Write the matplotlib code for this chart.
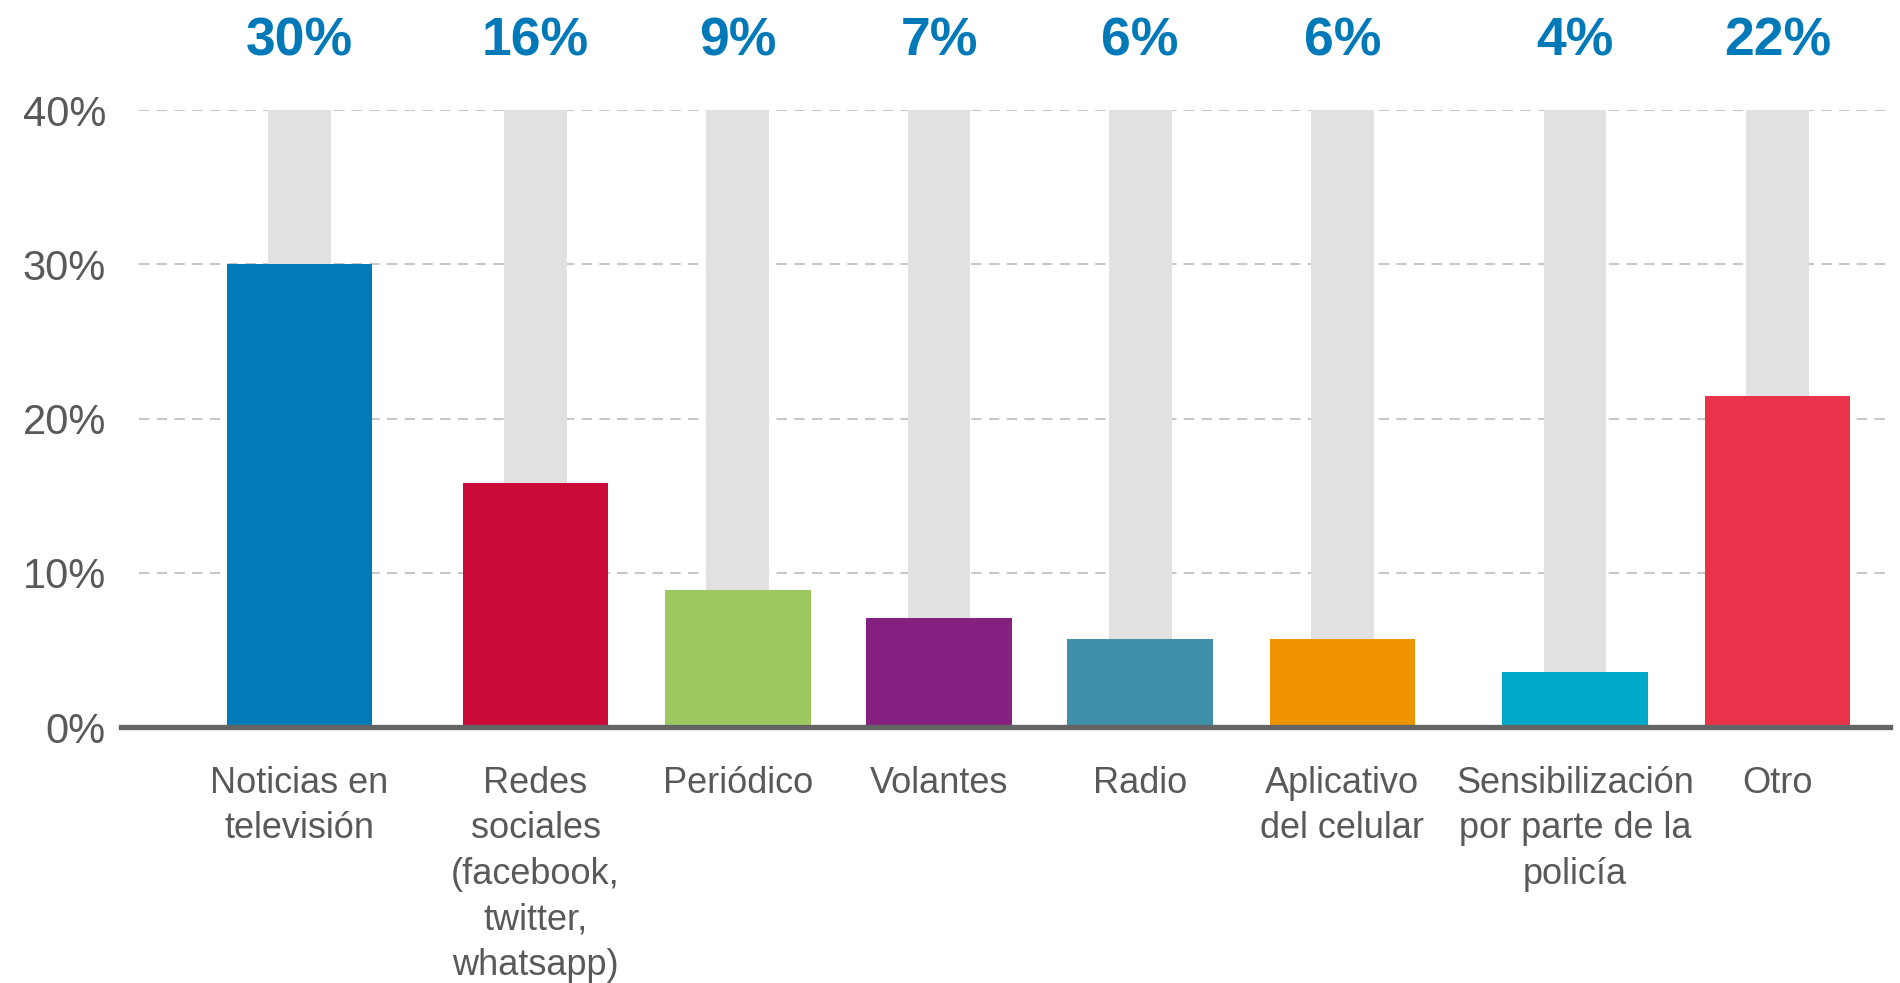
import matplotlib
matplotlib.use("Agg")
import matplotlib.pyplot as plt
from matplotlib.transforms import blended_transform_factory

# ---- data ----
categories = [
    "Noticias en\ntelevisión",
    "Redes\nsociales\n(facebook,\ntwitter,\nwhatsapp)",
    "Periódico",
    "Volantes",
    "Radio",
    "Aplicativo\ndel celular",
    "Sensibilización\npor parte de la\npolicía",
    "Otro",
]
values = [30.0, 15.8, 8.9, 7.1, 5.7, 5.7, 3.6, 21.5]
value_labels = ["30%", "16%", "9%", "7%", "6%", "6%", "4%", "22%"]
background_max = 40
yticks = [0, 10, 20, 30, 40]
ytick_labels = ["0%", "10%", "20%", "30%", "40%"]

# ---- layout / style ----
positions = [0, 1.171, 2.174, 3.171, 4.168, 5.171, 6.324, 7.327]
colors = ["#007BB8", "#CC0A3A", "#9DC85F", "#84207F", "#3F8FA8",
          "#F09300", "#00A9C8", "#E8334B"]
grey = "#E1E1E1"
text_grey = "#595959"

fig = plt.figure(figsize=(19, 9.83), dpi=100)
ax = fig.add_axes([0.0638, 0.2604, 0.931, 0.6274])
ax.set_xlim(-0.883, 7.886)
ax.set_ylim(0, 40)

# gridlines
ax.hlines(yticks[1:], -0.793, 7.886, colors="#C8C8C8", linestyles=(0, (5, 3.5)),
          linewidth=1.5, zorder=1)

# background grey bars
ax.bar(positions, [background_max] * len(values), width=0.312, color=grey, zorder=2)
# value bars
ax.bar(positions, values, width=0.72, color=colors, zorder=3)

# baseline
ax.axhline(0, color="#646464", linewidth=3.8, zorder=4, clip_on=False)

for s in ax.spines.values():
    s.set_visible(False)

ax.set_yticks(yticks)
ax.set_yticklabels(ytick_labels, fontsize=30, color=text_grey,
                   family=["Liberation Sans"])
ax.tick_params(axis="y", length=0, pad=11)

ax.set_xticks(positions)
ax.set_xticklabels(categories, fontsize=26, color=text_grey,
                   family=["Liberation Sans"], linespacing=1.39)
ax.tick_params(axis="x", length=0, pad=28)

trans = blended_transform_factory(ax.transData, fig.transFigure)
for x, lab in zip(positions, value_labels):
    ax.text(x, 0.958, lab, transform=trans, ha="center", va="center",
            fontsize=38.5, fontweight="bold", color="#0079B8",
            family=["Liberation Sans"])

fig.savefig("out.png", dpi=100)
